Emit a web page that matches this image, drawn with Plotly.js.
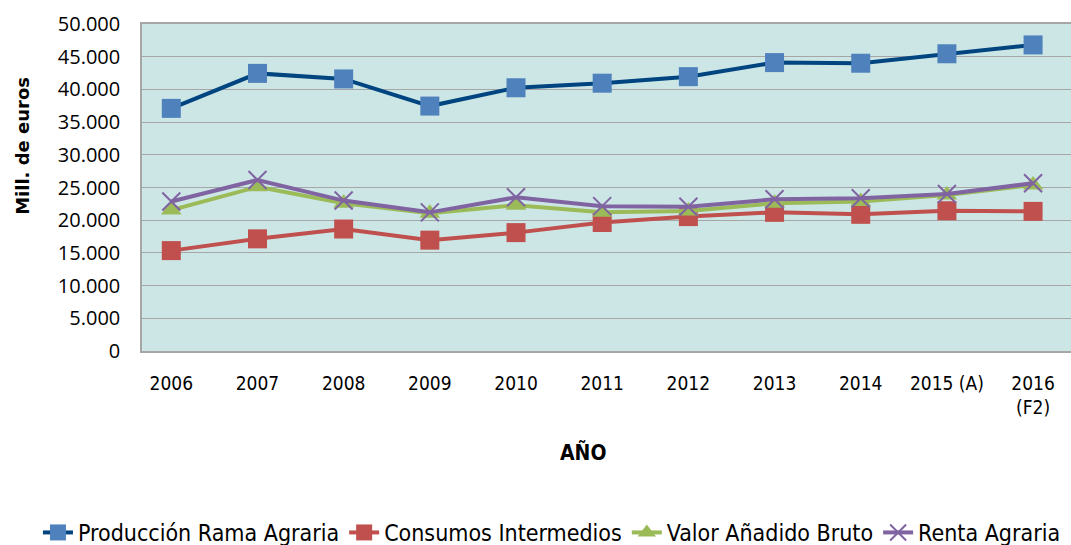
<!DOCTYPE html>
<html>
<head>
<meta charset="utf-8">
<script src="https://cdn.plot.ly/plotly-3.0.1.min.js"></script>
<style>
  html, body { margin: 0; padding: 0; background: #fff; }
  #chart { width: 1071px; height: 545px; }
</style>
</head>
<body>
<div id="chart"></div>
<script>
// Años (categorías del eje X)
var years = ['2006', '2007', '2008', '2009', '2010', '2011', '2012', '2013', '2014', '2015 (A)', '2016<br>(F2)']

// Mill. de euros
var produccion = [37100, 42450, 41600, 37450, 40250, 40950, 41950, 44100, 44000, 45450, 46800]
var consumos   = [15350, 17150, 18650, 16950, 18100, 19650, 20550, 21200, 20900, 21450, 21350]
var vab        = [21550, 25100, 22600, 21050, 22300, 21200, 21400, 22600, 22850, 23850, 25400]
var renta      = [22850, 26150, 23000, 21200, 23500, 22150, 22050, 23200, 23350, 24000, 25650]

var narrow = '"DejaVu Sans Condensed", "Liberation Sans Narrow", sans-serif'

var trProd = {
    x: years, y: produccion, name: 'Producción Rama Agraria',
    type: 'scatter', mode: 'lines+markers',
    line: {color: '#00457F', width: 4},
    marker: {symbol: 'square', size: 19, color: '#4F81BD'}
}
var trCons = {
    x: years, y: consumos, name: 'Consumos Intermedios',
    type: 'scatter', mode: 'lines+markers',
    line: {color: '#C0504D', width: 4},
    marker: {symbol: 'square', size: 19, color: '#C0504D'}
}
var trVab = {
    x: years, y: vab, name: 'Valor Añadido Bruto',
    type: 'scatter', mode: 'lines+markers',
    line: {color: '#9BBB59', width: 4},
    marker: {symbol: 'triangle-up', size: 18, color: '#9BBB59'}
}
var trRenta = {
    x: years, y: renta, name: 'Renta Agraria',
    type: 'scatter', mode: 'lines+markers',
    line: {color: '#8064A2', width: 4},
    marker: {symbol: 'x-thin', size: 18, line: {color: '#8064A2', width: 2}}
}

var data = [trProd, trCons, trVab, trRenta]

var layout = {
    width: 1071, height: 545,
    margin: {l: 142, r: 0, t: 24, b: 194, autoexpand: false},
    paper_bgcolor: '#ffffff',
    plot_bgcolor: '#CCE6E6',
    separators: ',.',
    showlegend: true,
    legend: {
        orientation: 'h', x: -0.112, xanchor: 'left', y: -0.555, yanchor: 'middle',
        font: {family: narrow, size: 23, color: '#000'},
        itemwidth: 30, tracegroupgap: 0, traceorder: 'normal'
    },
    xaxis: {
        type: 'category',
        range: [-0.34, 10.44],
        showgrid: false,
        showline: true, linecolor: '#A6A6A6', linewidth: 1.5, mirror: true,
        ticks: '', ticklabelstandoff: 14,
        tickfont: {family: narrow, size: 19, color: '#000'},
        zeroline: false
    },
    yaxis: {
        range: [0, 50000],
        dtick: 5000,
        tickformat: ',d',
        showgrid: true, gridcolor: '#A6A6A6', gridwidth: 1,
        showline: true, linecolor: '#A6A6A6', linewidth: 1.5, mirror: true,
        ticks: '', ticklabelstandoff: 16,
        tickfont: {family: '"Open Sans", sans-serif', size: 20, color: '#000'},
        zeroline: false
    },
    annotations: [
        {text: '<b>Mill. de euros</b>', xref: 'paper', yref: 'paper',
         x: -0.129, y: 0.628, xanchor: 'center', yanchor: 'middle', textangle: -90,
         showarrow: false, font: {family: '"DejaVu Sans", sans-serif', size: 18, color: '#000'}},
        {text: '<b>AÑO</b>', xref: 'paper', yref: 'paper',
         x: 0.475, y: -0.31, xanchor: 'center', yanchor: 'middle',
         showarrow: false, font: {family: narrow, size: 21, color: '#000'}}
    ]
}

Plotly.newPlot('chart', data, layout, {displayModeBar: false})
</script>
</body>
</html>
